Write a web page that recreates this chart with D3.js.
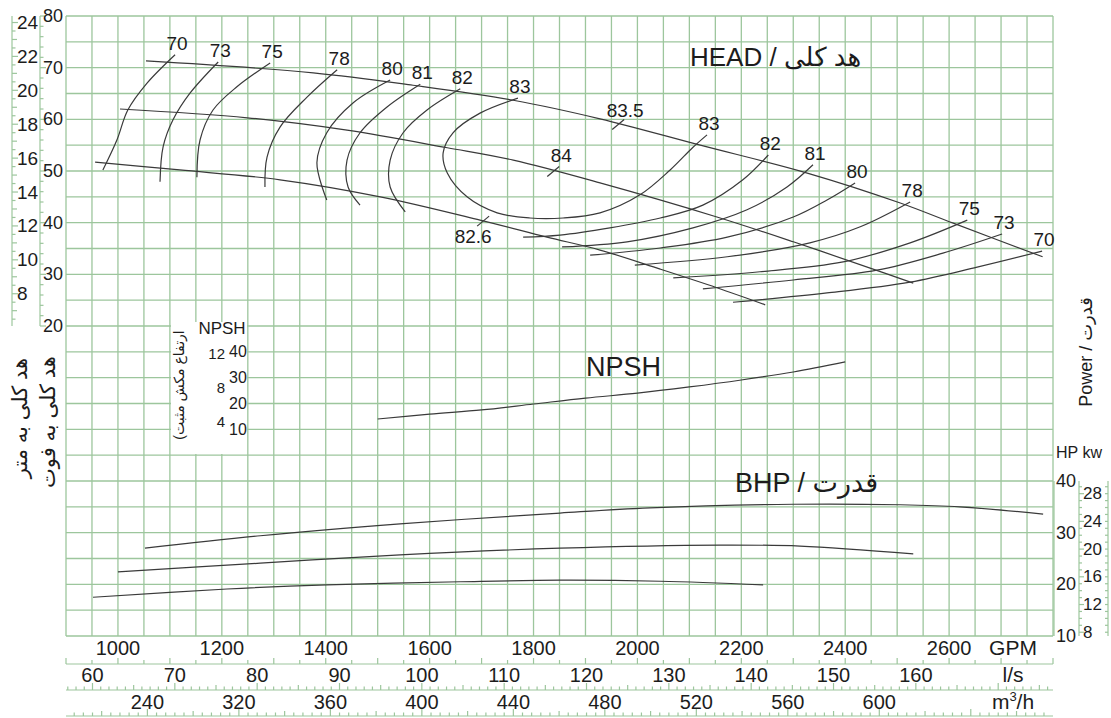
<!DOCTYPE html>
<html>
<head>
<meta charset="utf-8">
<script src="https://cdn.jsdelivr.net/npm/d3@7"></script>
<style>
  body { margin: 0; background: #fff; }
  svg text { font-family: "Liberation Sans", Arial, "DejaVu Sans", sans-serif; fill: #1c1c1c; }
</style>
</head>
<body>
<svg id="chart" width="1111" height="718"></svg>
<script>
// ---------- axis labels ----------
const gpmDomain = [900, 2800];
const gpmLabels = [1000, 1200, 1400, 1600, 1800, 2000, 2200, 2400, 2600];
const lpsLabels = [60, 70, 80, 90, 100, 110, 120, 130, 140, 150, 160];
const m3hTickValues = [240, 280, 320, 360, 400, 440, 480, 520, 560];
const m3hTickText = ["240", "320", "360", "400", "440", "480", "520", "560", "600"];
const headFtLabels = [80, 70, 60, 50, 40, 30, 20];
const headMLabels = [24, 22, 20, 18, 16, 14, 12, 10, 8];
const npshFtLabels = [40, 30, 20, 10];
const npshMLabels = [12, 8, 4];
const hpLabels = [40, 30, 20, 10];
const kwLabels = [28, 24, 20, 16, 12, 8];

// ---------- head curves (GPM, ft) ----------
const headTop = [[1054, 71.3], [1376, 69.0], [1568, 66.6], [1761, 63.7], [1928, 60.1], [2121, 55.0], [2327, 49.6], [2506, 43.8], [2608, 39.9], [2780, 33.4]];
const headMid = [[1004, 62.0], [1249, 60.3], [1441, 57.9], [1634, 54.5], [1761, 52.1], [1928, 47.7], [2153, 41.1], [2300, 36.3], [2448, 31.2], [2531, 28.3]];
const headLow = [[956, 51.7], [1119, 50.2], [1312, 48.3], [1505, 45.0], [1697, 40.5], [1826, 37.2], [1928, 34.7], [2044, 31.0], [2153, 27.4], [2246, 24.1]];

// ---------- iso-efficiency lines (GPM, ft), first point = labelled end ----------
const eff70L = [[1110, 72.5], [1056, 67.0], [1019, 61.8], [998, 56.0], [971, 50.2]];
const eff73L = [[1193, 71.1], [1139, 65.1], [1106, 59.9], [1087, 54.7], [1081, 47.9]];
const eff75L = [[1293, 70.9], [1229, 66.3], [1183, 61.8], [1158, 56.0], [1152, 48.8]];
const eff78L = [[1422, 69.6], [1364, 64.3], [1312, 58.5], [1287, 52.7], [1283, 46.9]];
const eff80L = [[1524, 67.6], [1453, 63.2], [1402, 57.4], [1383, 51.6], [1402, 44.4]];
const eff81L = [[1582, 66.8], [1518, 62.4], [1466, 57.4], [1441, 52.1], [1443, 46.9], [1466, 43.4]];
const eff82L = [[1659, 65.9], [1595, 61.8], [1549, 57.4], [1524, 52.1], [1524, 46.9], [1553, 42.1]];
const eff83 = [[1770, 64.1], [1697, 61.2], [1645, 57.4], [1626, 53.5], [1634, 49.6], [1672, 45.0], [1730, 41.9], [1793, 40.9], [1857, 40.9], [1928, 41.9], [2005, 45.4], [2063, 50.2], [2107, 54.6], [2134, 57.0]];
const eff82R = [[2252, 53.1], [2203, 48.3], [2126, 43.4], [2044, 40.9], [1947, 39.0], [1851, 37.6], [1780, 37.2]];
const eff81R = [[2338, 51.2], [2288, 46.9], [2211, 42.5], [2107, 39.0], [1980, 36.3], [1855, 35.3]];
const eff80R = [[2419, 47.7], [2365, 44.4], [2300, 41.1], [2173, 37.2], [2044, 35.1], [1909, 33.7]];
const eff78R = [[2525, 44.0], [2429, 39.2], [2332, 36.1], [2173, 33.4], [1995, 31.8]];
const eff75R = [[2635, 40.5], [2525, 36.1], [2396, 32.4], [2236, 30.5], [2069, 29.3]];
const eff73R = [[2702, 37.8], [2588, 34.1], [2461, 30.8], [2300, 28.9], [2126, 27.2]];
const eff70R = [[2779, 34.5], [2654, 31.4], [2525, 28.5], [2365, 26.4], [2184, 24.6]];

const effLines = [
  { eff: "70", pts: eff70L }, { eff: "73", pts: eff73L }, { eff: "75", pts: eff75L },
  { eff: "78", pts: eff78L }, { eff: "80", pts: eff80L }, { eff: "81", pts: eff81L },
  { eff: "82", pts: eff82L }, { eff: "83", pts: eff83, both: true },
  { eff: "82", pts: eff82R }, { eff: "81", pts: eff81R }, { eff: "80", pts: eff80R },
  { eff: "78", pts: eff78R }, { eff: "75", pts: eff75R }, { eff: "73", pts: eff73R },
  { eff: "70", pts: eff70R }
];

// best-efficiency marks on the head curves (GPM, ft)
const bepMarks = [
  { eff: "83.5", gpm: 1963, ft: 59.0, dx: 7, dy: -8 },
  { eff: "84", gpm: 1838, ft: 49.9, dx: 8, dy: -10 },
  { eff: "82.6", gpm: 1703, ft: 40.3, dx: -10, dy: 22 }
];

// ---------- NPSH required (GPM, ft) ----------
const npshGpm = [1500, 1600, 1700, 1800, 1900, 2000, 2100, 2200, 2300, 2400];
const npshFt = [14.0, 15.9, 17.5, 19.8, 22.1, 24.0, 26.4, 29.1, 32.2, 36.1];

// ---------- brake horsepower (GPM, HP) ----------
const bhpTopGpm = [1052, 1274, 1543, 1851, 2024, 2300, 2506, 2621, 2781];
const bhpTopHp = [27.0, 29.4, 31.7, 33.8, 34.8, 35.5, 35.4, 35.0, 33.6];
const bhpMidGpm = [1000, 1274, 1543, 1851, 2159, 2313, 2531];
const bhpMidHp = [22.4, 24.1, 25.7, 27.0, 27.6, 27.4, 25.9];
const bhpLowGpm = [952, 1210, 1402, 1659, 1851, 2044, 2242];
const bhpLowHp = [17.5, 19.1, 19.9, 20.5, 20.8, 20.6, 19.9];

// ---------- unit conversions ----------
const FT_PER_M = 3.2808;
const GPM_PER_LPS = 15.850;
const GPM_PER_M3H = 4.4029;
const KW_PER_HP = 0.7457;

// ---------- layout ----------
const L = 66, R = 1053, T = 16, B = 636;
const rows = 24, cell = (B - T) / rows;
const gridColor = "#9dc69d";
const curveColor = "#3a3a3a";

const svg = d3.select("#chart");

const x = d3.scaleLinear().domain(gpmDomain).range([L, R]);
const xLps = d3.scaleLinear().domain(gpmDomain.map(g => g / GPM_PER_LPS)).range([L, R]);
const xM3h = d3.scaleLinear().domain(gpmDomain.map(g => g / GPM_PER_M3H)).range([L, R]);
const yH = d3.scaleLinear().domain([20, 80]).range([T + 12 * cell, T]);
const yN = d3.scaleLinear().domain([10, 40]).range([T + 16 * cell, T + 13 * cell]);
const yP = d3.scaleLinear().domain([10, 40]).range([B, B - 6 * cell]);

// ---------- grid ----------
const grid = svg.append("g").attr("stroke", gridColor).attr("stroke-width", 1.3);
d3.range(gpmDomain[0], gpmDomain[1] + 1, 50).forEach(g => {
  grid.append("line").attr("x1", x(g)).attr("x2", x(g)).attr("y1", T).attr("y2", B);
});
d3.range(0, rows + 1).forEach(k => {
  const yy = yH(80 - 5 * k);
  grid.append("line").attr("x1", L).attr("x2", R).attr("y1", yy).attr("y2", yy);
});

// ---------- helpers ----------
const ruler = svg.append("g").attr("stroke", gridColor).attr("stroke-width", 1.2).attr("fill", "none");
function vLine(xx, y1, y2) { ruler.append("line").attr("x1", xx).attr("x2", xx).attr("y1", y1).attr("y2", y2); }
function hLine(yy, x1, x2) { ruler.append("line").attr("x1", x1).attr("x2", x2).attr("y1", yy).attr("y2", yy); }
function label(xx, yy, txt, size, anchor, baseline) {
  return svg.append("text").attr("x", xx).attr("y", yy).attr("font-size", size)
    .attr("text-anchor", anchor || "start").attr("dominant-baseline", baseline || "central").text(txt);
}

// ---------- head axes (m and ft) ----------
vLine(12, T, yH(20));
d3.range(6.5, 24.01, 0.5).forEach(m => {
  const yy = yH(m * FT_PER_M);
  const len = m % 2 === 0 ? 6 : (m % 1 === 0 ? 5 : 3.5);
  hLine(yy, 12, 12 + len);
});
headMLabels.forEach(m => label(17, yH(m * FT_PER_M), m, 19));

vLine(40, T, yH(20));
d3.range(20, 81, 2).forEach(f => hLine(yH(f), 40, 40 + (f % 10 === 0 ? 6 : 3.5)));
headFtLabels.forEach(f => label(43, yH(f), f, 18));

// rotated unit captions on the left
svg.append("text").attr("transform", "translate(19,418) rotate(-90)").attr("font-size", 21)
  .attr("text-anchor", "middle").attr("dominant-baseline", "central").text("هد کلی به متر");
svg.append("text").attr("transform", "translate(47,422) rotate(-90)").attr("font-size", 21)
  .attr("text-anchor", "middle").attr("dominant-baseline", "central").text("هد کلی به فوت");

// ---------- NPSH mini axes ----------
svg.append("rect").attr("x", 171).attr("y", 322).attr("width", 76).attr("height", 132).attr("fill", "#fff");
label(222, 328, "NPSH", 17, "middle");
vLine(205, yN(40), yN(10));
d3.range(4, 12.01, 2).forEach(m => hLine(yN(m * FT_PER_M), 205, 210));
npshMLabels.forEach(m => label(225, yN(m * FT_PER_M), m, 15, "end"));
vLine(227, yN(40), yN(10));
npshFtLabels.forEach(f => { hLine(yN(f), 227, 231); label(229, yN(f), f, 16); });
svg.append("text").attr("transform", "translate(179,385) rotate(-90)").attr("font-size", 14)
  .attr("text-anchor", "middle").attr("dominant-baseline", "central").text("(ارتفاع مکش مثبت");

// ---------- flow axes ----------
const yGpm = 664, yLps = 690, yM3h = 716;
hLine(yGpm, L, R);
d3.range(gpmDomain[0], gpmDomain[1] + 1, 50).forEach(g => hLine(0, 0, 0) || vLine(x(g), yGpm, yGpm - (g % 100 === 0 ? 6 : 4)));
gpmLabels.forEach(g => label(x(g), yGpm - 9, g, 20, "middle", "auto"));
label(1013, yGpm - 9, "GPM", 21, "middle", "auto");

hLine(yLps, L, R);
d3.range(Math.ceil(xLps.domain()[0]), xLps.domain()[1], 1).forEach(v => vLine(xLps(v), yLps, yLps - (v % 10 === 0 ? 7 : (v % 5 === 0 ? 5 : 3.5))));
lpsLabels.forEach(v => label(xLps(v), yLps - 8, v, 20, "middle", "auto"));
label(1013, yLps - 8, "l/s", 21, "middle", "auto");

hLine(yM3h, L, R);
d3.range(Math.ceil(xM3h.domain()[0] / 4) * 4, xM3h.domain()[1], 4).forEach(v => vLine(xM3h(v), yM3h, yM3h - (v % 40 === 0 ? 7 : (v % 20 === 0 ? 5 : 3.5))));
m3hTickValues.forEach((v, i) => label(xM3h(v), yM3h - 7, m3hTickText[i], 20, "middle", "auto"));
const m3 = svg.append("text").attr("x", 1013).attr("y", yM3h - 7).attr("font-size", 21)
  .attr("text-anchor", "middle");
m3.append("tspan").text("m");
m3.append("tspan").attr("font-size", 13).attr("dy", -8).text("3");
m3.append("tspan").attr("dy", 8).text("/h");

// ---------- power axes (HP, kW) ----------
vLine(R + 1, yP(40), B);
hpLabels.forEach(h => label(1056, yP(h), h, 18));
vLine(1079, yP(40), B);
vLine(1108, yP(40), B);
d3.range(8, 30, 1).forEach(k => {
  const yy = yP(k / KW_PER_HP);
  hLine(yy, 1079, 1079 + (k % 4 === 0 ? 5 : 3));
  hLine(yy, 1108 - 3, 1108);
});
kwLabels.forEach(k => label(1083, yP(k / KW_PER_HP), k, 17));
label(1056, 452, "HP kw", 16);
svg.append("text").attr("transform", "translate(1086,352) rotate(-90)").attr("font-size", 18)
  .attr("text-anchor", "middle").attr("dominant-baseline", "central").text("Power / قدرت");

// ---------- curves ----------
const lineH = d3.line().x(d => x(d[0])).y(d => yH(d[1])).curve(d3.curveCatmullRom.alpha(0.5));
const curves = svg.append("g").attr("fill", "none").attr("stroke", curveColor).attr("stroke-width", 1.2);

[headTop, headMid, headLow].forEach(c => curves.append("path").attr("d", lineH(c)));

effLines.forEach(e => {
  curves.append("path").attr("d", lineH(e.pts));
  const ends = e.both ? [e.pts[0], e.pts[e.pts.length - 1]] : [e.pts[0]];
  ends.forEach(p => label(x(p[0]) + 2, yH(p[1]) - 5, e.eff, 19, "middle", "auto"));
});

bepMarks.forEach(m => {
  const cx = x(m.gpm), cy = yH(m.ft);
  curves.append("line").attr("x1", cx - 6).attr("y1", cy + 5).attr("x2", cx + 6).attr("y2", cy - 5);
  label(cx + m.dx, cy + m.dy, m.eff, 19, "middle", "auto");
});

const lineN = d3.line().x((d, i) => x(npshGpm[i])).y(d => yN(d)).curve(d3.curveCatmullRom.alpha(0.5));
curves.append("path").attr("d", lineN(npshFt));

const lineP = gpm => d3.line().x((d, i) => x(gpm[i])).y(d => yP(d)).curve(d3.curveCatmullRom.alpha(0.5));
curves.append("path").attr("d", lineP(bhpTopGpm)(bhpTopHp));
curves.append("path").attr("d", lineP(bhpMidGpm)(bhpMidHp));
curves.append("path").attr("d", lineP(bhpLowGpm)(bhpLowHp));

// ---------- curve titles ----------
label(690, 66, "HEAD / هد کلی", 26, "start", "auto");
label(586, 376, "NPSH", 27, "start", "auto");
label(735, 492, "BHP / قدرت", 27, "start", "auto");
</script>
</body>
</html>
